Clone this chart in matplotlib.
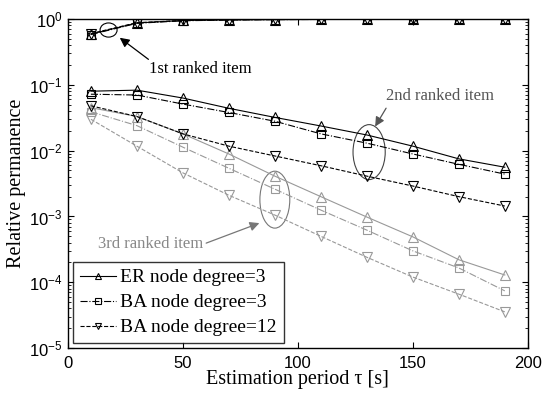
import matplotlib
matplotlib.use('Agg')
import matplotlib.pyplot as plt
from matplotlib.patches import Ellipse

# Estimation period (s)
tau = [10, 30, 50, 70, 90, 110, 130, 150, 170, 190]

# 1st ranked item
er3_first = [0.59, 0.87, 0.95, 0.97, 0.98, 0.985, 0.99, 0.99, 0.995, 0.995]
ba3_first = [0.58, 0.86, 0.94, 0.965, 0.978, 0.985, 0.99, 0.99, 0.993, 0.995]
ba12_first = [0.60, 0.88, 0.95, 0.975, 0.985, 0.99, 0.993, 0.995, 0.997, 0.998]

# 2nd ranked item
er3_second = [0.080, 0.083, 0.063, 0.044, 0.032, 0.0237, 0.0173, 0.0117, 0.0075, 0.0056]
ba3_second = [0.072, 0.070, 0.051, 0.038, 0.028, 0.018, 0.013, 0.0089, 0.0062, 0.0044]
ba12_second = [0.048, 0.033, 0.018, 0.0117, 0.0083, 0.0059, 0.0041, 0.0029, 0.0020, 0.00144]

# 3rd ranked item
er3_third = [0.045, 0.033, 0.018, 0.0089, 0.0041, 0.0020, 0.00098, 0.00049, 0.00022, 0.000129]
ba3_third = [0.039, 0.024, 0.0113, 0.0054, 0.0026, 0.00125, 0.00062, 0.0003, 0.000165, 0.000074]
ba12_third = [0.030, 0.0117, 0.0046, 0.0021, 0.00105, 0.0005, 0.00024, 0.00012, 0.000066, 0.0000355]

plt.rcParams['font.family'] = 'Liberation Sans'
plt.rcParams['mathtext.default'] = 'regular'
plt.rcParams['xtick.direction'] = 'in'
plt.rcParams['ytick.direction'] = 'in'

serif = 'Liberation Serif'
black = 'black'
gray = '#999999'

fig = plt.figure(figsize=(5.43, 3.96), dpi=100)
ax = fig.add_axes([0.125, 0.121, 0.847, 0.831])

styles = [
    ('ER node degree=3', '-', '^', 7, [er3_first, er3_second, er3_third]),
    ('BA node degree=3', '-.', 's', 6, [ba3_first, ba3_second, ba3_third]),
    ('BA node degree=12', '--', 'v', 7, [ba12_first, ba12_second, ba12_third]),
]

for label, ls, mk, ms, series in styles:
    for i, vals in enumerate(series):
        c = gray if i == 2 else black
        ax.plot(tau, vals, linestyle=ls, marker=mk, markersize=ms, color=c,
                markerfacecolor='none', linewidth=0.8, markeredgewidth=0.8,
                label=label if i == 1 else None)

ax.set_yscale('log')
ax.set_xlim(0, 200)
ax.set_ylim(1e-5, 1)
ax.set_xticks([0, 50, 100, 150, 200])
ax.tick_params(which='both', top=True, right=True, labelsize=12)
ax.tick_params(which='major', length=4)
ax.tick_params(which='minor', length=2)
ax.tick_params(axis='x', pad=6)
ax.tick_params(axis='y', pad=4)
for s in ax.spines.values():
    s.set_linewidth(1.0)

ax.set_xlabel('Estimation period τ [s]', family=serif, fontsize=14.5, labelpad=-1)
ax.set_ylabel('Relative permanence', family=serif, fontsize=14.5, labelpad=2)

leg = ax.legend(loc='lower left', prop={'family': serif, 'size': 14},
                frameon=True, fancybox=False, edgecolor='black',
                handlelength=1.9, handletextpad=0.2, borderpad=0.35,
                labelspacing=0.38, borderaxespad=0.25)
leg.get_frame().set_linewidth(1.0)
for h in leg.legend_handles:
    h.set_color('black')
    h.set_markerfacecolor('none')
    h.set_markersize(5)

# ellipses marking the ranked items
to_axes = ax.transData + ax.transAxes.inverted()
ellipses = [((17.7, 0.68), 0.037, 0.043, black),
            ((131, 0.0095), 0.07, 0.167, '#444444'),
            ((90, 0.0018), 0.065, 0.173, '#777777')]
for (cx, cy), w, h, c in ellipses:
    center = to_axes.transform((cx, cy))
    ax.add_patch(Ellipse(center, w, h, transform=ax.transAxes,
                         fill=False, edgecolor=c, linewidth=0.8))

ax.text(57.6, 0.174, '1st ranked item', family=serif, fontsize=12,
        ha='center', va='center', color=black)
ax.annotate('', xy=(21.6, 0.55), xytext=(36, 0.23),
            arrowprops=dict(arrowstyle='-|>', color=black, lw=0.9, mutation_scale=14))

ax.text(162, 0.0676, '2nd ranked item', family=serif, fontsize=12,
        ha='center', va='center', color='#555555')
ax.annotate('', xy=(133, 0.0214), xytext=(139, 0.048),
            arrowprops=dict(arrowstyle='-|>', color='#555555', lw=0.9, mutation_scale=14))

ax.text(59, 3.8e-4, '3rd ranked item', family=serif, fontsize=12,
        ha='right', va='center', color='#888888')
ax.annotate('', xy=(84.4, 8.2e-4), xytext=(59, 3.8e-4),
            arrowprops=dict(arrowstyle='-|>', color='#777777', lw=0.9, mutation_scale=14))

fig.savefig('out.png', dpi=100)
